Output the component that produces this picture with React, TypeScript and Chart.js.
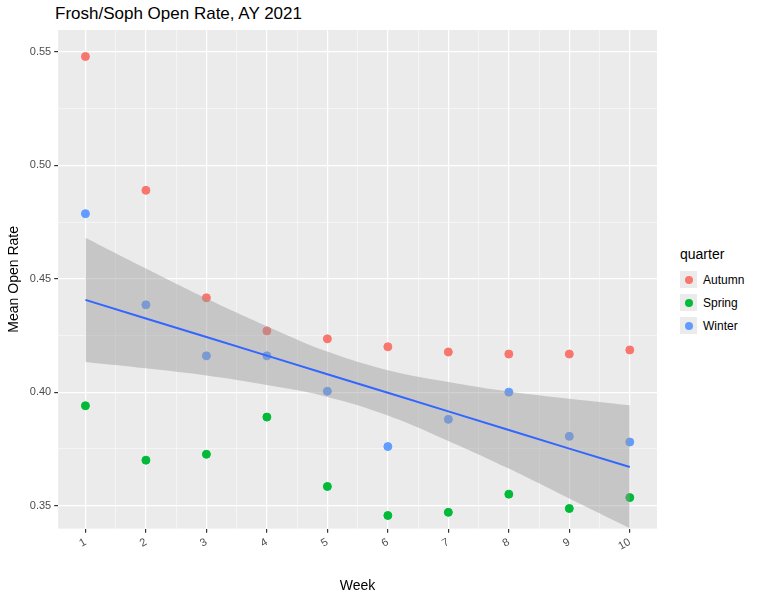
import React, { useEffect, useRef } from 'react';
import { Chart, registerables } from 'chart.js';

Chart.register(...registerables);

const weeks = [1, 2, 3, 4, 5, 6, 7, 8, 9, 10];
const autumn = [0.548, 0.489, 0.4416, 0.427, 0.4235, 0.42, 0.4177, 0.4168, 0.4168, 0.4186];
const spring = [0.394, 0.37, 0.3726, 0.389, 0.3584, 0.3456, 0.347, 0.355, 0.3487, 0.3535];
const winter = [0.4787, 0.4385, 0.416, 0.416, 0.4004, 0.376, 0.388, 0.4, 0.3805, 0.378];
const fitLine = [0.4407, 0.4325, 0.4243, 0.4161, 0.4079, 0.3997, 0.3915, 0.3833, 0.3751, 0.367];
const bandUpper = [0.4681, 0.4545, 0.4413, 0.4291, 0.4179, 0.4097, 0.4045, 0.4003, 0.3971, 0.3942];
const bandLower = [0.4133, 0.4105, 0.4073, 0.4031, 0.3979, 0.3897, 0.3785, 0.3663, 0.3531, 0.34];

const legendItems = [
  { label: 'Autumn', color: '#F8766D' },
  { label: 'Spring', color: '#00BA38' },
  { label: 'Winter', color: '#619CFF' },
];

const pts = (ys: number[]) => weeks.map((x, i) => ({ x, y: ys[i] }));

const panelBg = {
  id: 'panelBg',
  beforeDraw(chart: Chart) {
    const { ctx, chartArea: a } = chart;
    ctx.save();
    ctx.fillStyle = '#EBEBEB';
    ctx.fillRect(a.left, a.top, a.right - a.left, a.bottom - a.top);
    ctx.restore();
  },
};

const isMajor = (v: number, step: number) => Math.abs(v / step - Math.round(v / step)) < 1e-6;

const App: React.FC = () => {
  const ref = useRef<HTMLCanvasElement | null>(null);

  useEffect(() => {
    if (!ref.current) return;
    const scatter = (label: string, data: number[], color: string) => ({
      type: 'scatter' as const,
      label,
      data: pts(data),
      backgroundColor: color,
      borderColor: color,
      pointRadius: 4,
      pointHoverRadius: 4,
      order: 3,
    });
    const chart = new Chart(ref.current, {
      type: 'scatter',
      data: {
        datasets: [
          scatter('Autumn', autumn, '#F8766D'),
          scatter('Spring', spring, '#00BA38'),
          scatter('Winter', winter, '#619CFF'),
          {
            type: 'line', label: 'lower', data: pts(bandLower), borderWidth: 0,
            pointRadius: 0, fill: false, order: 2, tension: 0.4,
          },
          {
            type: 'line', label: 'upper', data: pts(bandUpper), borderWidth: 0,
            pointRadius: 0, fill: '-1', backgroundColor: 'rgba(153,153,153,0.45)', order: 2, tension: 0.4,
          },
          {
            type: 'line', label: 'fit', data: pts(fitLine), borderColor: '#3366FF', borderWidth: 2,
            pointRadius: 0, fill: false, order: 1,
          },
        ] as any,
      },
      options: {
        animation: false,
        responsive: false,
        layout: { padding: { top: 30, right: 7, bottom: 6, left: 2 } },
        plugins: {
          legend: { display: false },
          tooltip: { enabled: false },
          filler: { drawTime: 'beforeDatasetDraw' },
        } as any,
        scales: {
          x: {
            type: 'linear', min: 0.55, max: 10.45,
            border: { display: false },
            afterBuildTicks: (s: any) => {
              const t = [];
              for (let v = 1; v <= 10; v += 0.5) t.push({ value: v });
              s.ticks = t;
            },
            ticks: {
              color: '#4D4D4D', font: { size: 11, family: 'Arial, Liberation Sans' },
              maxRotation: 30, minRotation: 30, autoSkip: false,
              callback: (v: any) => (isMajor(v, 1) ? String(v) : ''),
            },
            grid: {
              color: '#FFFFFF',
              lineWidth: (c: any) => (isMajor(c.tick.value, 1) ? 1.2 : 0.5),
              tickColor: (c: any) => (isMajor(c.tick.value, 1) ? '#333333' : 'rgba(0,0,0,0)'),
              tickLength: 4,
            },
            title: {
              display: true, text: 'Week', color: '#000', padding: { top: 22, bottom: 0 },
              font: { size: 14, family: 'Arial, Liberation Sans' },
            },
          },
          y: {
            type: 'linear', min: 0.3398, max: 0.5597,
            border: { display: false },
            afterBuildTicks: (s: any) => {
              const t = [];
              for (let v = 0.35; v <= 0.5501; v += 0.025) t.push({ value: Math.round(v * 1000) / 1000 });
              s.ticks = t;
            },
            ticks: {
              color: '#4D4D4D', font: { size: 11, family: 'Arial, Liberation Sans' },
              callback: (v: any) => (isMajor(v, 0.05) ? Number(v).toFixed(2) : ''),
            },
            grid: {
              color: '#FFFFFF',
              lineWidth: (c: any) => (isMajor(c.tick.value, 0.05) ? 1.2 : 0.5),
              tickColor: (c: any) => (isMajor(c.tick.value, 0.05) ? '#333333' : 'rgba(0,0,0,0)'),
              tickLength: 4,
            },
            title: { display: true, text: 'Mean Open Rate', color: '#000', font: { size: 14, family: 'Arial, Liberation Sans' } },
          },
        },
      },
      plugins: [panelBg],
    });
    return () => chart.destroy();
  }, []);

  return (
    <div style={{ position: 'absolute', left: 0, top: 0, width: 766, height: 601, background: '#fff', fontFamily: 'Arial, Liberation Sans, sans-serif' }}>
      <div style={{ position: 'absolute', left: 55, top: 4, fontSize: 17, color: '#000' }}>Frosh/Soph Open Rate, AY 2021</div>
      <canvas ref={ref} width={664} height={601} style={{ position: 'absolute', left: 0, top: 0 }} />
      <div style={{ position: 'absolute', left: 680, top: 246 }}>
        <div style={{ fontSize: 14, marginBottom: 6 }}>quarter</div>
        {legendItems.map(it => (
          <div key={it.label} style={{ display: 'flex', alignItems: 'center', height: 23 }}>
            <div style={{ width: 17, height: 17, background: '#EBEBEB', display: 'flex', alignItems: 'center', justifyContent: 'center' }}>
              <div style={{ width: 8, height: 8, borderRadius: 4, background: it.color }} />
            </div>
            <span style={{ fontSize: 12, marginLeft: 6, color: '#000' }}>{it.label}</span>
          </div>
        ))}
      </div>
    </div>
  );
};

export default App;
